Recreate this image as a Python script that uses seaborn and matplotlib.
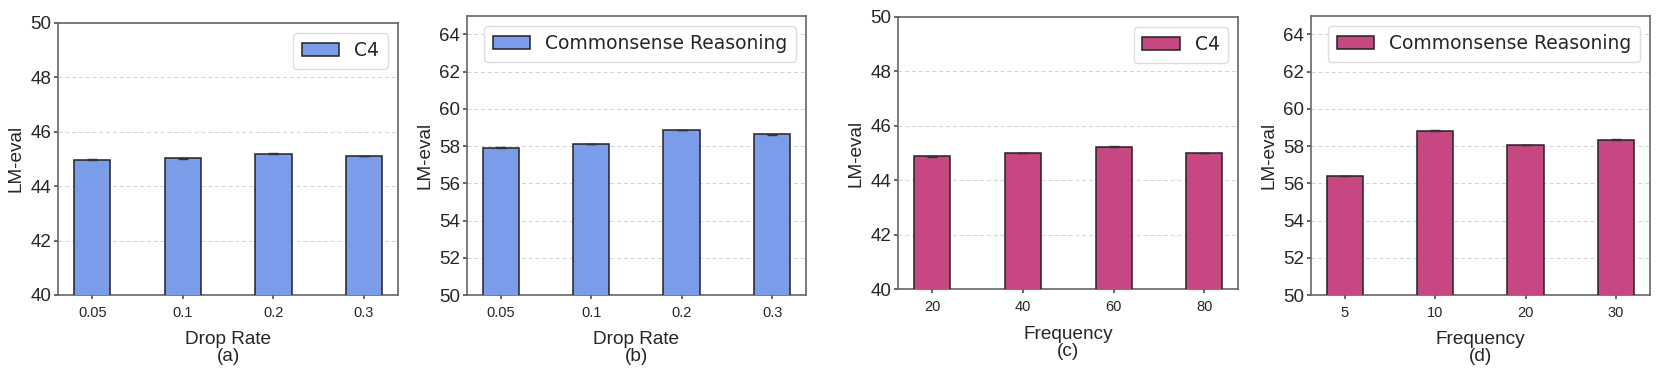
import numpy as np
import seaborn as sns
import matplotlib.pyplot as plt

# panel data
drop_rates = ["0.05", "0.1", "0.2", "0.3"]
drop_c4 = [44.97, 45.02, 45.19, 45.10]
drop_cs = [57.92, 58.12, 58.87, 58.62]

freq_c4_labels = ["20", "40", "60", "80"]
freq_c4 = [44.88, 45.00, 45.23, 45.00]
freq_cs_labels = ["5", "10", "20", "30"]
freq_cs = [56.38, 58.83, 58.05, 58.35]

err = [0.01, 0.01, 0.01, 0.01]

blue = "#7b9ce9"
pink = "#c64782"

sns.set_theme(style="white")
plt.rcParams['font.family'] = ['Liberation Sans', 'DejaVu Sans']

fig = plt.figure(figsize=(16.61, 3.70), dpi=100)

W, H = 1661, 370
boxes = [  # left, top, right, bottom in pixels
    (58.3, 22.7, 398.0, 295.0),
    (466.7, 15.7, 806.0, 295.0),
    (898.3, 16.7, 1238.3, 289.3),
    (1310.7, 15.7, 1650.0, 295.0),
]

panels = [
    (drop_rates, drop_c4, blue, "C4", "Drop Rate", "(a)", (40, 50), np.arange(40, 51, 2)),
    (drop_rates, drop_cs, blue, "Commonsense Reasoning", "Drop Rate", "(b)", (50, 65), np.arange(50, 65, 2)),
    (freq_c4_labels, freq_c4, pink, "C4", "Frequency", "(c)", (40, 50), np.arange(40, 51, 2)),
    (freq_cs_labels, freq_cs, pink, "Commonsense Reasoning", "Frequency", "(d)", (50, 65), np.arange(50, 65, 2)),
]

for (l, t, r, b), (cats, vals, col, lab, xl, tag, ylim, yt) in zip(boxes, panels):
    ax = fig.add_axes([l / W, 1 - b / H, (r - l) / W, (b - t) / H])
    sns.barplot(x=cats, y=vals, color=col, width=0.4, saturation=1,
                edgecolor="#222222", linewidth=1.1, label=lab, ax=ax, zorder=3)
    ax.errorbar(range(len(vals)), vals, yerr=err, fmt="none", ecolor="#333333",
                elinewidth=1, capsize=3.5, zorder=4)
    ax.set_xlim(-0.375, 3.375)
    ax.set_ylim(*ylim)
    ax.set_yticks(yt)
    ax.yaxis.grid(True, linestyle=(0, (4, 3)), color="#d2d2d2", linewidth=0.7, zorder=0)
    ax.set_axisbelow(True)
    ax.tick_params(axis="y", labelsize=13.5, length=3, left=True, color="#555555", pad=2)
    ax.tick_params(axis="x", labelsize=10.5, length=3, bottom=True, color="#555555", pad=5)
    for s in ax.spines.values():
        s.set_color("#666666")
        s.set_linewidth(1.2)
    ax.set_ylabel("LM-eval", fontsize=13.7, labelpad=4)
    ax.set_xlabel(xl + "\n" + tag, fontsize=13.7, linespacing=1.0, labelpad=8)
    ax.legend(loc="upper right", prop={"family": "DejaVu Sans", "size": 13.5},
              handlelength=2.0, borderpad=0.45, framealpha=1, edgecolor="#dddddd",
              borderaxespad=0.55)

fig.savefig("out.png", dpi=100)
